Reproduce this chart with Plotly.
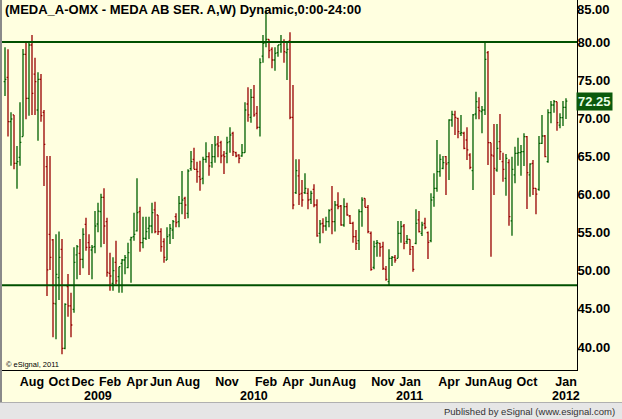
import pandas as pd
import plotly.graph_objects as go

# ---------------- data (weekly bars, MEDA A) ----------------
start_week = "2008-06-02"
opens = [
 74.80,75.37,69.55,70.43,64.09,64.88,67.59,78.38,72.61,79.61,75.80,71.08,75.10,70.78,63.65,54.78,54.04,45.64,49.10,52.81,
 39.82,47.91,45.38,44.94,52.07,52.28,51.50,56.09,53.68,52.72,53.16,56.13,57.75,59.63,56.44,49.66,48.35,51.10,49.22,50.97,
 51.41,50.40,54.04,54.47,55.22,57.75,53.68,54.25,55.56,55.87,57.97,57.31,55.13,53.81,51.41,54.69,55.34,57.09,56.44,58.84,
 59.50,57.53,63.40,64.61,63.30,62.34,62.12,64.61,64.96,64.17,64.96,66.62,66.80,65.18,65.40,66.93,68.02,65.49,65.18,65.05,
 65.49,71.87,70.12,72.74,70.64,68.81,78.16,79.91,80.35,79.04,77.64,78.60,79.69,80.04,78.60,80.13,70.12,60.24,62.43,60.15,
 60.24,60.15,59.37,60.68,58.62,54.91,56.22,55.87,56.44,58.05,56.44,58.62,58.49,56.00,58.40,57.18,56.22,54.47,53.94,57.75,
 59.50,58.32,54.91,50.45,53.59,53.59,53.16,50.18,48.57,51.63,51.76,51.63,54.91,55.87,53.81,54.12,53.16,53.59,56.66,54.91,
 56.22,55.00,53.94,59.63,60.81,62.99,63.43,64.96,64.17,69.77,70.43,69.99,68.02,68.02,67.15,65.18,63.13,70.56,71.43,70.86,
 71.08,78.60,66.80,65.05,63.21,66.93,64.31,62.12,64.17,56.53,62.56,65.40,65.49,65.62,67.58,62.56,64.09,60.81,60.68,66.71,
 67.67,64.31,70.73,71.74,72.17,69.11,70.08,71.43]
highs = [
 79.30,79.04,70.78,70.43,66.36,72.09,79.08,79.91,80.00,80.92,77.95,76.02,75.80,71.08,65.05,65.05,54.17,54.78,55.13,54.17,
 45.73,49.57,47.12,53.07,53.38,54.17,55.56,56.96,54.78,53.38,57.83,58.93,60.11,60.81,56.96,52.37,51.76,53.94,50.53,51.54,
 52.07,53.68,54.47,57.62,62.12,58.40,57.09,57.09,57.09,58.93,59.06,57.31,55.56,54.25,55.69,56.13,56.66,57.53,59.80,63.08,
 59.72,63.30,65.70,66.14,64.31,64.44,64.96,66.84,65.53,66.62,67.67,67.67,67.06,65.70,67.58,68.81,68.24,65.62,65.27,66.62,
 72.09,74.05,73.84,74.36,71.61,77.86,80.92,84.30,80.35,79.30,79.30,79.61,80.92,80.35,79.91,81.27,74.36,64.61,64.61,61.90,
 62.78,60.81,60.50,61.33,59.37,56.66,56.87,57.09,58.05,61.11,59.15,60.28,58.62,59.50,58.93,57.31,56.44,55.34,58.05,59.63,
 59.50,58.62,55.13,53.94,54.04,53.68,53.81,50.62,52.81,51.94,52.07,56.53,56.53,56.13,54.69,54.12,53.24,58.05,57.83,56.44,
 56.96,55.13,60.15,62.78,67.15,65.27,65.05,65.05,69.86,70.99,70.99,70.08,70.43,68.24,68.81,65.40,70.56,73.49,72.74,71.61,
 80.00,78.82,66.80,69.24,69.24,70.56,65.49,65.31,64.61,64.96,66.27,67.45,66.49,68.02,67.67,64.09,64.52,60.81,67.67,70.43,
 67.80,71.17,72.26,72.39,72.17,70.64,72.26,72.61]
lows = [
 72.92,67.59,63.78,63.30,60.76,63.78,67.59,69.86,70.34,70.43,70.43,67.06,69.55,61.11,46.69,50.10,41.27,41.00,46.16,39.04,
 39.69,43.98,41.27,44.50,48.87,49.44,50.31,52.63,49.44,48.87,52.28,55.04,53.07,53.51,49.22,47.39,47.39,48.22,47.12,47.12,
 49.53,50.31,48.44,53.94,55.13,52.50,52.94,54.04,54.17,54.91,54.91,54.69,52.50,51.06,51.41,53.51,54.17,55.69,55.69,57.40,
 56.79,56.87,63.10,63.30,61.55,60.50,61.33,64.17,62.47,63.52,64.17,64.87,64.09,62.69,64.09,65.49,65.05,64.87,64.09,64.96,
 65.49,69.55,69.42,70.21,68.55,67.59,77.29,79.30,77.86,76.55,76.24,78.08,78.60,77.29,75.02,69.86,58.05,60.06,58.62,58.40,
 60.06,58.05,58.75,58.32,54.47,53.59,54.91,55.26,55.69,54.78,55.13,58.05,55.91,55.78,57.22,56.13,53.68,52.72,52.72,55.78,
 58.32,54.91,50.01,50.18,51.85,51.85,50.10,48.70,48.13,50.62,51.06,51.63,53.68,52.81,53.51,52.07,49.88,53.46,55.00,54.56,
 55.43,51.54,53.72,58.40,60.37,62.34,63.30,59.93,61.90,68.90,67.80,67.37,67.67,65.92,64.52,63.30,60.59,69.86,69.86,68.02,
 70.43,63.87,51.85,59.93,62.99,64.52,61.68,59.85,55.91,54.60,61.46,63.78,62.47,63.74,58.10,59.72,59.93,57.40,60.50,66.62,
 64.87,64.17,69.33,70.73,68.37,68.68,68.98,69.90]
closes = [
 75.10,69.55,69.90,64.09,64.31,66.84,78.38,72.61,79.61,73.27,74.80,75.10,70.34,66.58,50.10,51.76,45.73,49.53,51.76,39.82,
 45.60,45.38,42.88,51.10,53.16,51.50,54.78,53.07,53.07,53.07,55.87,57.83,59.63,55.87,49.79,49.31,50.01,48.66,50.53,51.41,
 51.72,52.37,54.34,54.78,57.62,53.68,54.25,55.13,55.87,57.62,55.13,55.13,53.16,51.76,54.47,55.56,56.44,56.31,58.84,59.28,
 58.62,63.08,64.30,63.30,62.99,61.99,64.61,64.96,63.74,64.96,66.49,66.36,65.05,64.96,66.80,67.80,65.62,65.05,64.74,65.49,
 71.08,70.43,72.74,70.43,68.81,77.29,79.83,80.35,78.86,77.64,78.51,79.61,80.04,78.73,79.04,70.12,58.62,63.13,60.02,59.28,
 60.81,59.28,60.15,58.62,54.56,56.13,55.87,56.44,57.88,56.44,58.62,58.40,56.00,58.40,57.31,56.22,54.47,53.59,57.75,59.28,
 58.32,55.13,50.18,53.16,53.68,53.07,50.31,48.87,51.63,51.76,51.41,54.91,55.78,53.59,54.12,52.81,50.18,56.22,55.13,56.00,
 55.69,53.72,59.28,60.81,62.99,64.61,64.17,64.00,69.77,70.51,70.12,68.24,68.11,66.05,65.84,63.56,70.43,72.17,70.99,71.08,
 77.73,66.80,65.18,63.43,66.05,65.62,63.30,64.74,57.09,63.30,65.40,65.49,65.62,67.58,62.86,64.00,60.81,60.06,66.71,67.67,
 64.96,70.73,71.74,72.17,69.42,70.08,71.43,72.25]

hlines = [80.0, 48.1]
y_ticks = [40, 45, 50, 55, 60, 65, 70, 75, 80]
y_top_label = 85
month_ticks = ["2008-08", "2008-10", "2008-12", "2009-02", "2009-04", "2009-06", "2009-08", "2009-11",
               "2010-02", "2010-04", "2010-06", "2010-08", "2010-11", "2011-01", "2011-04", "2011-06",
               "2011-08", "2011-10", "2012-01"]
month_text = ["Aug", "Oct", "Dec", "Feb", "Apr", "Jun", "Aug", "Nov", "Feb", "Apr", "Jun", "Aug",
              "Nov", "Jan", "Apr", "Jun", "Aug", "Oct", "Jan"]
year_ticks = ["2009-01", "2010-01", "2011-01", "2012-01"]
year_text = ["2009", "2010", "2011", "2012"]
title_text = "(MEDA_A-OMX - MEDA AB SER. A,W) Dynamic,0:00-24:00"

# ---------------- figure ----------------
dates = pd.date_range(start_week, periods=len(closes), freq="7D")
ser = pd.Series(range(len(dates)), index=dates)

def first_bar(ym):
    return ser[ym].index[0]

W, H = 622, 419
L_M, R_M, T_M, B_M = 2, 45, 0, 49
pw, ph = W - L_M - R_M, H - T_M - B_M

def px_x(p):  # pixel -> paper
    return (p - L_M) / pw

def px_y(p):
    return (H - B_M - p) / ph

GREEN = "#006000"
RED = "#980000"
BG = "#FFFFE0"
BOLD = dict(weight="bold", color="black")

fig = go.Figure(go.Ohlc(
    x=dates, open=opens, high=highs, low=lows, close=closes,
    increasing=dict(line=dict(color=GREEN, width=1.3)),
    decreasing=dict(line=dict(color=RED, width=1.3)),
    tickwidth=0.45, hoverinfo="skip", showlegend=False,
))

for v in hlines:
    fig.add_shape(type="line", xref="paper", yref="y", x0=0, x1=1, y0=v, y1=v,
                  line=dict(color="#005000", width=2))

shapes_extra = [
    dict(type="rect", xref="paper", yref="paper", x0=px_x(0), x1=px_x(W), y0=px_y(H), y1=px_y(402),
         fillcolor="#E6E6E6", line=dict(width=0), layer="below"),
    dict(type="line", xref="paper", yref="paper", x0=px_x(0), x1=px_x(W), y0=px_y(402.5), y1=px_y(402.5),
         line=dict(color="#B0B0B0", width=1)),
    dict(type="line", xref="paper", yref="paper", x0=px_x(1), x1=px_x(1), y0=px_y(0), y1=px_y(402),
         line=dict(color="#8A8A8A", width=2)),
]
for s in shapes_extra:
    fig.add_shape(**s)

x0 = dates[0] - pd.Timedelta(days=7)
x1 = dates[-1] + pd.Timedelta(days=25.7)

fig.update_layout(
    width=W, height=H,
    margin=dict(l=L_M, r=R_M, t=T_M, b=B_M, pad=0),
    paper_bgcolor=BG, plot_bgcolor=BG,
    font=dict(family="Arial, Liberation Sans", color="black"),
    xaxis=dict(
        type="date", range=[x0, x1], rangeslider=dict(visible=False),
        tickvals=[first_bar(m) for m in month_ticks], ticktext=month_text,
        tickangle=0, tickfont=dict(size=12.5, **BOLD),
        ticks="", showgrid=False, zeroline=False,
        showline=True, linecolor="black", linewidth=1,
    ),
    yaxis=dict(
        side="right", range=[36.98, 85.51],
        tickvals=y_ticks, tickformat=".2f",
        tickfont=dict(size=13, **BOLD), ticklabelstandoff=-3,
        ticks="", showgrid=False, zeroline=False,
        showline=True, linecolor="black", linewidth=1,
    ),
)

ann = []
ann.append(dict(text=title_text, xref="paper", yref="paper", x=px_x(3), y=px_y(10),
                xanchor="left", yanchor="middle", showarrow=False,
                font=dict(size=13, **BOLD)))
ann.append(dict(text="%.2f" % y_top_label, xref="paper", yref="paper", x=1, y=px_y(10),
                xanchor="left", yanchor="middle", showarrow=False, xshift=-2,
                font=dict(size=13, **BOLD)))
for ym, t in zip(year_ticks, year_text):
    ann.append(dict(text=t, xref="x", yref="paper", x=first_bar(ym), y=px_y(396),
                    xanchor="center", yanchor="middle", showarrow=False,
                    font=dict(size=12.5, **BOLD)))
ann.append(dict(text="%.2f" % closes[-1], xref="paper", yref="y", x=1, y=closes[-1],
                xanchor="left", yanchor="middle", showarrow=False, bgcolor="#0B5A0B",
                borderpad=1, xshift=-1,
                font=dict(size=13, weight="bold", color="#E6FFE6")))
ann.append(dict(text="\u00a9 eSignal, 2011", xref="paper", yref="paper", x=px_x(4), y=px_y(364),
                xanchor="left", yanchor="middle", showarrow=False,
                font=dict(size=7.5, color="black")))
ann.append(dict(text="Published by eSignal (www.esignal.com)", xref="paper", yref="paper",
                x=px_x(617), y=px_y(411), xanchor="right", yanchor="middle", showarrow=False,
                font=dict(size=9.5, color="#333333")))
fig.update_layout(annotations=ann)

fig.write_html("out.html", config={"displayModeBar": False})
